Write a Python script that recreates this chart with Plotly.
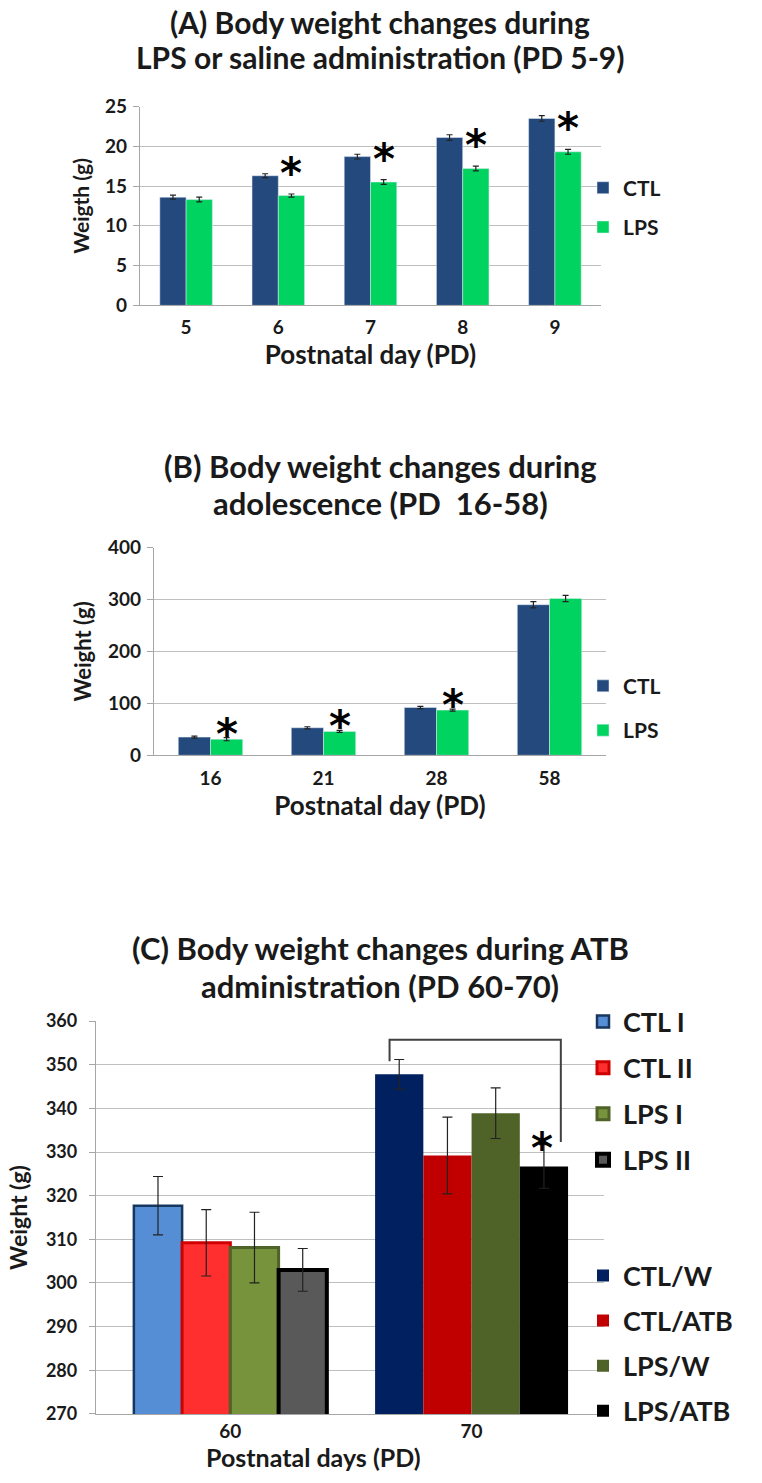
import plotly.graph_objects as go

W, H = 762, 1483
def px(x): return x / W
def py(y): return 1 - y / H

FONT = "Lato"
INK = "#1a1a1a"
GRID = "#BFBFBF"

# ---------------- data ----------------
days_a = ["5", "6", "7", "8", "9"]
ctl_a = [13.6, 16.3, 18.7, 21.1, 23.5]
ctl_a_err = [0.25, 0.25, 0.3, 0.35, 0.35]
lps_a = [13.3, 13.8, 15.5, 17.2, 19.3]
lps_a_err = [0.3, 0.2, 0.3, 0.3, 0.3]
sig_a = [False, True, True, True, True]

days_b = ["16", "21", "28", "58"]
ctl_b = [35, 53, 92, 290]
ctl_b_err = [2, 2, 2, 6]
lps_b = [31, 46, 87, 302]
lps_b_err = [3, 2, 2, 6]
sig_b = [True, True, True, False]

days_c = ["60", "70"]
names_60 = ["CTL I", "CTL II", "LPS I", "LPS II"]
vals_60 = [317.7, 309.2, 308.1, 303.0]
err_60 = [6.7, 7.6, 8.1, 4.9]
names_70 = ["CTL/W", "CTL/ATB", "LPS/W", "LPS/ATB"]
vals_70 = [347.8, 329.2, 338.9, 326.7]
err_70 = [3.4, 8.8, 5.8, 5.0]
sig_70 = [False, False, False, True]

# ---------------- styles ----------------
CTL_COLOR = "#244A7D"
LPS_COLOR = "#00D35F"
fill_60 = ["#558ED5", "#FF2F2F", "#77933C", "#595959"]
line_60 = ["#17375E", "#D00000", "#4F6228", "#000000"]
lw_60 = [2.5, 3, 3, 4]
fill_70 = ["#002060", "#C00000", "#4F6228", "#000000"]
C_BAR_W = 0.2

fig = go.Figure()

def err(arr, w=3):
    return dict(type="data", array=arr, visible=True, color="#222222", thickness=1.2, width=w)

# Panel A
fig.add_trace(go.Bar(x=days_a, y=ctl_a, error_y=err(ctl_a_err), name="CTL",
                     marker_color=CTL_COLOR, xaxis="x", yaxis="y",
                     legend="legend", legendgroup="a1"))
fig.add_trace(go.Bar(x=days_a, y=lps_a, error_y=err(lps_a_err), name="LPS",
                     marker_color=LPS_COLOR, xaxis="x", yaxis="y",
                     legend="legend", legendgroup="a2"))
# Panel B
fig.add_trace(go.Bar(x=days_b, y=ctl_b, error_y=err(ctl_b_err), name="CTL",
                     marker_color=CTL_COLOR, xaxis="x2", yaxis="y2",
                     legend="legend2", legendgroup="b1"))
fig.add_trace(go.Bar(x=days_b, y=lps_b, error_y=err(lps_b_err), name="LPS",
                     marker_color=LPS_COLOR, xaxis="x2", yaxis="y2",
                     legend="legend2", legendgroup="b2"))
# Panel C
for i in range(4):
    fig.add_trace(go.Bar(x=[days_c[0]], y=[vals_60[i]], error_y=err([err_60[i]], 5),
                         name=names_60[i], width=C_BAR_W, offset=-2 * C_BAR_W + i * C_BAR_W,
                         marker=dict(color=fill_60[i], line=dict(color=line_60[i], width=lw_60[i])),
                         xaxis="x3", yaxis="y3", legend="legend3", legendgroup="c%d" % i))
for i in range(4):
    fig.add_trace(go.Bar(x=[days_c[1]], y=[vals_70[i]], error_y=err([err_70[i]], 5),
                         name=names_70[i], width=C_BAR_W, offset=-2 * C_BAR_W + i * C_BAR_W,
                         marker=dict(color=fill_70[i], line=dict(width=0)),
                         xaxis="x3", yaxis="y3", legend="legend4", legendgroup="d%d" % i))

# ---------------- axes ----------------
def tfont(s):
    return dict(family=FONT, size=s, color=INK, weight="bold")

def yax(dom, rng, dtick, title, tsize, standoff, tick_size=19, tls=2):
    return dict(domain=dom, range=rng, dtick=dtick, showgrid=True, gridcolor=GRID, gridwidth=1.3,
                showline=True, linecolor="#A6A6A6", linewidth=1.3, ticks="outside", ticklen=6,
                tickcolor="#A6A6A6", tickfont=tfont(tick_size), zeroline=False, fixedrange=True,
                ticklabelstandoff=tls,
                title=dict(text=title, font=tfont(tsize), standoff=standoff))

def xax(dom, anchor, title, tsize, standoff, tls, rng=None):
    d = dict(domain=dom, anchor=anchor, type="category", showline=True, linecolor="#A6A6A6",
             linewidth=1.3, ticks="", tickfont=tfont(19), showgrid=False, ticklabelstandoff=tls,
             fixedrange=True, title=dict(text=title, font=tfont(tsize), standoff=standoff))
    if rng is not None:
        d["range"] = rng
    return d

fig.update_layout(
    width=W, height=H, margin=dict(l=0, r=0, t=0, b=0),
    paper_bgcolor="white", plot_bgcolor="white",
    barmode="group", bargap=0.43, showlegend=True,
    font=dict(family=FONT, color=INK),
    xaxis=xax([px(140), px(601)], "y", "Postnatal day (PD)", 26, 6, 5),
    yaxis=yax([py(298), py(96)], [0, 25], 5, "Weigth (g)", 21, 9),
    xaxis2=xax([px(154), px(606)], "y2", "Postnatal day (PD)", 26, 4, 6),
    yaxis2=yax([py(755), py(544)], [0, 400], 100, "Weight (g)", 22, 10),
    xaxis3=xax([px(96), px(604)], "y3", "", 26, 4, 0, [-0.557, 1.549]),
    yaxis3=yax([py(1424), py(1025)], [270, 360], 10, "Weight (g)", 23, 11, 18, 8),
)
fig.update_layout(yaxis3_anchor="x3", yaxis2_anchor="x2", yaxis_anchor="x")

def leg(x, y, gap, size):
    return dict(x=px(x), y=py(y), xanchor="left", yanchor="top", font=tfont(size),
                traceorder="grouped", tracegroupgap=gap, bgcolor="rgba(0,0,0,0)", itemwidth=30)
fig.update_layout(
    legend=leg(583, 158, 9, 21),
    legend2=leg(583, 664, 14, 21),
    legend3=leg(583, 1001, 8, 27),
    legend4=leg(583, 1259, 7, 27),
)

# ---------------- annotations ----------------
ann = []
def line(text, ycen, size=31, x=380):
    ann.append(dict(text=text, xref="paper", yref="paper", x=px(x), y=py(ycen),
                    xanchor="center", yanchor="middle", showarrow=False,
                    font=tfont(size)))
line("(A) Body weight changes during", 10, 30)
line("LPS or saline administration (PD 5-9)", 46, 30)
line("(B) Body weight changes during", 461)
line("adolescence (PD  16-58)", 499)
line("(C) Body weight changes during ATB", 951)
line("administration (PD 60-70)", 989)
# x-axis title of panel C
line("Postnatal days (PD)", 1467.5, 25, 313)

star_font = dict(family="DejaVu Sans", size=42, color="#000000", weight="bold")
w_a = (1 - 0.43) / 2
for i, s in enumerate(sig_a):
    if s:
        ann.append(dict(text="*", xref="x", yref="y", x=i + w_a / 2, y=lps_a[i] + lps_a_err[i],
                        yanchor="bottom", showarrow=False, font=star_font, yshift=-6))
for i, s in enumerate(sig_b):
    if s:
        ann.append(dict(text="*", xref="x2", yref="y2", x=i + w_a / 2, y=lps_b[i] + lps_b_err[i],
                        yanchor="bottom", showarrow=False, font=star_font, yshift=-23))
for i, s in enumerate(sig_70):
    if s:
        ann.append(dict(text="*", xref="x3", yref="y3", x=1 - 2 * C_BAR_W + (i + 0.5) * C_BAR_W - 0.01,
                        y=vals_70[i] + err_70[i],
                        yanchor="bottom", showarrow=False, font=star_font, yshift=-30))
fig.update_layout(annotations=ann)

# bracket between CTL/W and LPS/ATB at PD 70
top = max(vals_70[0] + err_70[0], vals_70[3] + err_70[3]) + 4.5
xl = 1 - 1.5 * C_BAR_W - 0.04
xr = 1 + 1.5 * C_BAR_W + 0.07
fig.add_shape(type="path", xref="x3", yref="y3",
              path=f"M {xl},{vals_70[0] + err_70[0] - 0.4} L {xl},{top} L {xr},{top} L {xr},{vals_70[3] + err_70[3] + 0.6}",
              line=dict(color="#404040", width=2))

fig.write_html("out.html", config={"displayModeBar": False},
               post_script="document.body.style.margin='0';")
